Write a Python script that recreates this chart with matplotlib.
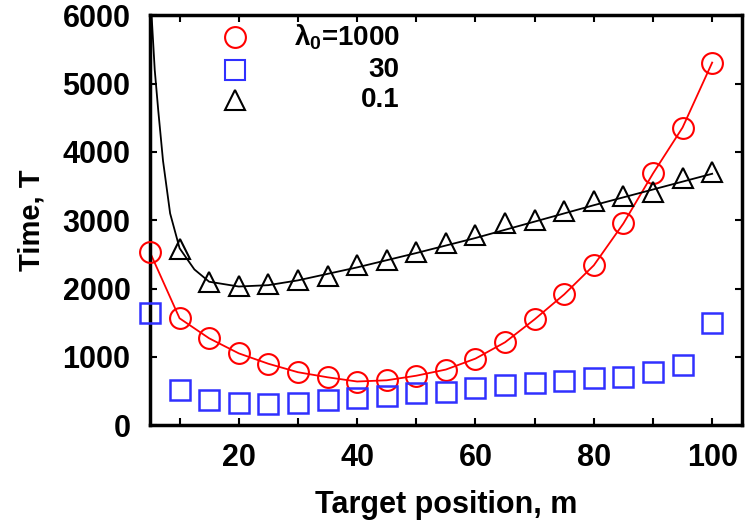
import matplotlib
matplotlib.use("Agg")
import matplotlib.pyplot as plt
from matplotlib.ticker import MultipleLocator

plt.rcParams['font.family'] = ['Liberation Sans', 'DejaVu Sans']
plt.rcParams['font.weight'] = 'bold'
plt.rcParams['mathtext.fontset'] = 'custom'
plt.rcParams['mathtext.rm'] = 'Liberation Sans:bold'
plt.rcParams['mathtext.bf'] = 'Liberation Sans:bold'
plt.rcParams['mathtext.default'] = 'rm'

# ---- data ----
x_pos = [5, 10, 15, 20, 25, 30, 35, 40, 45, 50, 55, 60, 65, 70, 75, 80, 85, 90, 95, 100]
t_1000 = [2530, 1565, 1272, 1052, 900, 776, 702, 640, 658, 725, 815, 975, 1214, 1550, 1915,
          2340, 2953, 3684, 4357, 5307]
t_30 = [1637, 512, 365, 320, 307, 322, 365, 395, 424, 468, 482, 541, 585, 614, 643, 687, 702,
        775, 877, 1491]
x_tri = [10, 15, 20, 25, 30, 35, 40, 45, 50, 55, 60, 65, 70, 75, 80, 85, 90, 95, 100]
t_01 = [2575, 2100, 2040, 2070, 2125, 2190, 2340, 2420, 2530, 2660, 2780, 2960, 3010, 3130,
        3280, 3360, 3420, 3620, 3700]
# fitted curve for lambda0 = 0.1 (steep left part)
fit01_x = [5.2, 5.8, 6.4, 7.2, 8.4, 10, 12.5, 15, 20, 25, 30, 40, 50, 60, 70, 80, 90, 100]
fit01_y = [6100, 5200, 4600, 3870, 3100, 2590, 2280, 2100, 2030, 2050, 2120, 2310, 2520, 2740,
           2980, 3220, 3450, 3680]
legend_labels = [r'λ$_{0}$=1000', '30', '0.1']

red = '#ff0000'
blue = '#3030ff'

fig = plt.figure(figsize=(7.5, 5.25), dpi=100)
ax = fig.add_axes([0.2, 0.19, 0.789, 0.781])

ax.plot(x_pos, t_1000, '-', color=red, lw=1.3, zorder=2)
ax.plot(x_pos, t_1000, 'o', ms=15, mfc='none', mec=red, mew=1.5, zorder=3, clip_on=False)
ax.plot(x_pos, t_30, 's', ms=15, mfc='none', mec=blue, mew=1.8, zorder=3, clip_on=False)
ax.plot(fit01_x, fit01_y, '-', color='black', lw=1.3, zorder=2)
ax.plot(x_tri, t_01, '^', ms=15, mfc='none', mec='black', mew=1.5, zorder=3, clip_on=False)

ax.set_xlim(5, 105)
ax.set_ylim(0, 6000)
ax.xaxis.set_major_locator(MultipleLocator(20))
ax.xaxis.set_minor_locator(MultipleLocator(10))
ax.yaxis.set_major_locator(MultipleLocator(1000))
ax.tick_params(which='both', direction='in', top=True, right=True, width=1.5)
ax.tick_params(which='major', length=5)
ax.tick_params(which='minor', length=5)
ax.tick_params(axis='x', labelsize=22, pad=13)
ax.tick_params(axis='y', labelsize=22, pad=14)
for s in ax.spines.values():
    s.set_linewidth(2.5)

ax.set_xlabel('Target position, m', fontsize=22, fontweight='bold', labelpad=12)
ax.set_ylabel('Time, T', fontsize=21, fontweight='bold', labelpad=12)

# legend (gnuplot style: marker left, label right-aligned)
leg_y = [0.946, 0.866, 0.793]
markers = [('o', red), ('s', blue), ('^', 'black')]
for (m, c), yy, lab in zip(markers, leg_y, legend_labels):
    ax.plot([0.1436], [yy], m, ms=15, mfc='none', mec=c, mew=1.5,
            transform=ax.transAxes, clip_on=False)
    ax.text(0.422, yy, lab, transform=ax.transAxes, ha='right', va='center',
            fontsize=20, fontweight='bold')

fig.savefig('out.png', dpi=100)
